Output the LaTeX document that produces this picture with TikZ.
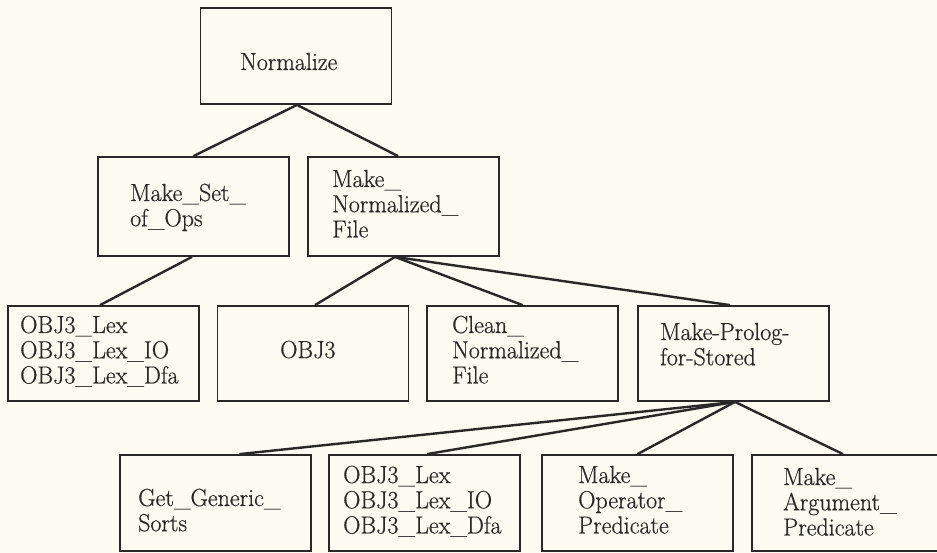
\documentclass[tikz,border=0pt]{standalone}
\usepackage{fontspec}
\newfontfamily\lblfont{Latin Modern Roman}[FakeBold=0.6]
\definecolor{paper}{RGB}{251,251,241}
\definecolor{ink}{RGB}{40,40,40}
\tikzset{
  box/.style={draw=ink, line width=1.8pt, minimum width=191pt, inner sep=0pt},
  link/.style={draw=ink, line width=2.4pt},
  lbl/.style={anchor=base west, inner sep=0pt, text=ink, font=\lblfont\fontsize{24}{24.5}\selectfont}
}
% stacked lines of text; baseline = first line
\newcommand\textlines[1]{\scalebox{1}[1.03]{\begin{tabular}[t]{@{}l@{}}#1\end{tabular}}}
\begin{document}
\begin{tikzpicture}[x=1pt,y=-1pt]
  \fill[paper] (0,0) rectangle (937,553);
  \useasboundingbox (0,0) rectangle (937,553);
  \clip (0,0) rectangle (937,553);

  % level 0
  \node[box, minimum height=96pt] (norm) at (296,56) {};
  % level 1
  \node[box, minimum height=99pt] (mset)  at (193.5,206.5) {};
  \node[box, minimum height=99pt] (mnorm) at (403.5,206.5) {};
  % level 2
  \node[box, minimum height=95pt] (lex1)   at (103.5,353.5) {};
  \node[box, minimum height=95pt] (obj)    at (313,353.5) {};
  \node[box, minimum height=95pt] (clean)  at (522.5,353.5) {};
  \node[box, minimum height=95pt] (prolog) at (733.5,353.5) {};
  % level 3
  \node[box, minimum height=96pt] (gen)  at (215.5,503) {};
  \node[box, minimum height=96pt] (lex2) at (424.5,503) {};
  \node[box, minimum height=96pt] (oper) at (637.5,503) {};
  \node[box, minimum height=96pt] (arg)  at (847.5,503) {};

  % labels
  \node[lbl] (tnorm)   at (240,70)  {\textlines{Normalize}};
  \node[lbl] (tmset)   at (130,201) {\textlines{Make\_Set\_\\of\_Ops}};
  \node[lbl] (tmnorm)  at (332,187) {\textlines{Make\_\\Normalized\_\\File}};
  \node[lbl] (tlex1)   at (20,333)  {\textlines{OBJ3\_Lex\\OBJ3\_Lex\_IO\\OBJ3\_Lex\_Dfa}};
  \node[lbl] (tobj)    at (280,358) {\textlines{OBJ3}};
  \node[lbl] (tclean)  at (452,333) {\textlines{Clean\_\\Normalized\_\\File}};
  \node[lbl] (tprolog) at (660,340) {\textlines{Make-Prolog-\\for-Stored}};
  \node[lbl] (tgen)    at (138,506) {\textlines{Get\_Generic\_\\Sorts}};
  \node[lbl] (tlex2)   at (343,483) {\textlines{OBJ3\_Lex\\OBJ3\_Lex\_IO\\OBJ3\_Lex\_Dfa}};
  \node[lbl] (toper)   at (578,483) {\textlines{Make\_\\Operator\_\\Predicate}};
  \node[lbl] (targ)    at (783,485) {\textlines{Make\_\\Argument\_\\Predicate}};

  % tree connectors
  \draw[link] ([xshift=1pt]norm.south) -- (mset.north);
  \draw[link] ([xshift=1pt]norm.south) -- ([xshift=-5.5pt]mnorm.north);
  \draw[link] ([xshift=-1.5pt]mset.south) -- ([xshift=-3.5pt]lex1.north);
  \draw[link] ([xshift=-8.5pt]mnorm.south) -- ([xshift=2pt]obj.north);
  \draw[link] ([xshift=-8.5pt]mnorm.south) -- (clean.north);
  \draw[link] ([xshift=-8.5pt]mnorm.south) -- ([xshift=-3.5pt]prolog.north);
  \draw[link] ([xshift=1.5pt]prolog.south) -- ([xshift=24pt]gen.north);
  \draw[link] ([xshift=1.5pt]prolog.south) -- ([xshift=2.5pt]lex2.north);
  \draw[link] ([xshift=1.5pt]prolog.south) -- (oper.north);
  \draw[link] ([xshift=1.5pt]prolog.south) -- ([xshift=-4.5pt]arg.north);
\end{tikzpicture}
\end{document}
